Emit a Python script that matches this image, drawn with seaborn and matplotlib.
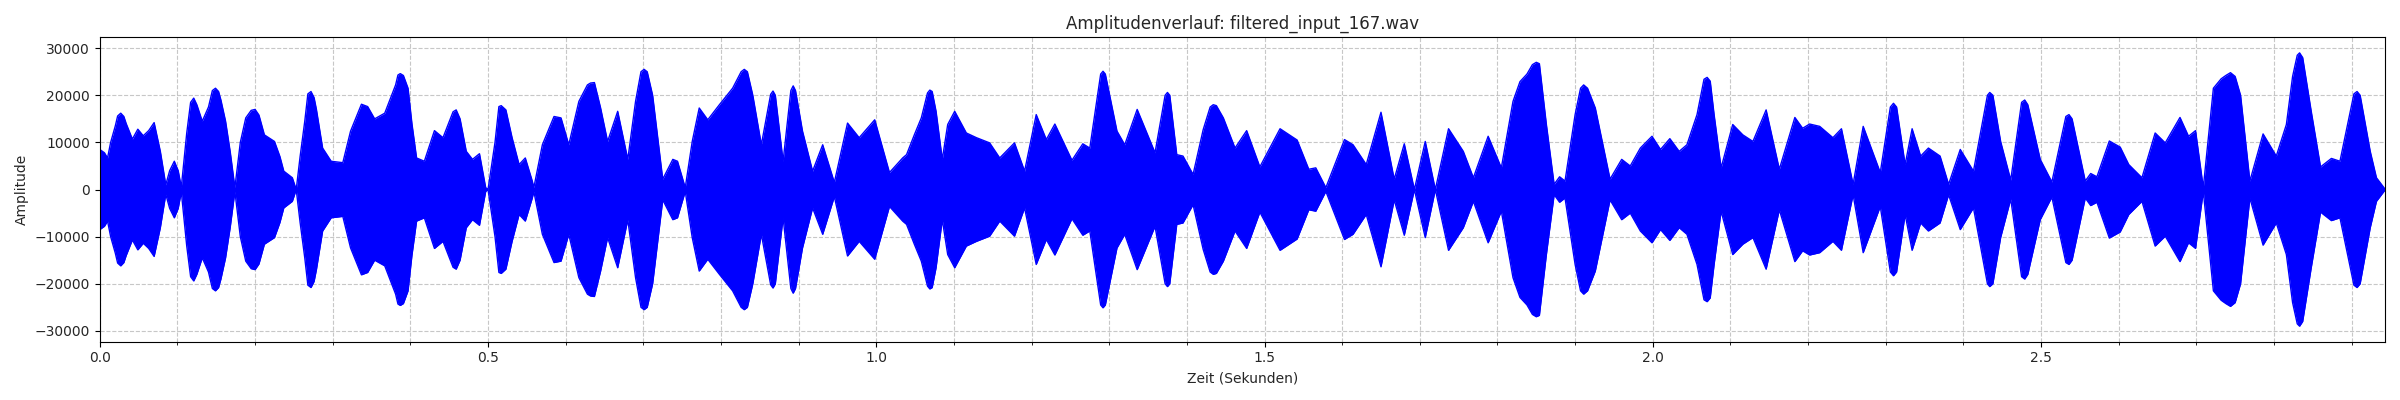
import numpy as np
import pandas as pd
import matplotlib
matplotlib.use("Agg")
import matplotlib.pyplot as plt
import seaborn as sns
from matplotlib.ticker import MultipleLocator

# Envelope of the waveform (time in s, amplitude)
times = [
    0.000, 0.006, 0.010, 0.014, 0.020, 0.023, 0.027, 0.031, 0.034, 0.042,
    0.049, 0.056, 0.063, 0.070, 0.078, 0.085, 0.090, 0.096, 0.101, 0.105,
    0.112, 0.117, 0.121, 0.125, 0.132, 0.140, 0.145, 0.149, 0.153, 0.156,
    0.162, 0.168, 0.174, 0.181, 0.188, 0.195, 0.200, 0.205, 0.212, 0.225,
    0.232, 0.237, 0.248, 0.253, 0.258, 0.264, 0.268, 0.272, 0.276, 0.279,
    0.287, 0.298, 0.313, 0.323, 0.337, 0.345, 0.354, 0.367, 0.381, 0.384,
    0.387, 0.391, 0.397, 0.402, 0.408, 0.418, 0.431, 0.442, 0.455, 0.459,
    0.464, 0.472, 0.480, 0.489, 0.497, 0.500, 0.509, 0.514, 0.517, 0.523,
    0.531, 0.540, 0.548, 0.557, 0.559, 0.570, 0.585, 0.594, 0.604, 0.617,
    0.628, 0.632, 0.637, 0.645, 0.654, 0.667, 0.680, 0.690, 0.697, 0.701,
    0.705, 0.712, 0.725, 0.738, 0.744, 0.754, 0.763, 0.772, 0.783, 0.798,
    0.815, 0.826, 0.830, 0.834, 0.841, 0.852, 0.864, 0.867, 0.870, 0.880,
    0.890, 0.893, 0.896, 0.905, 0.918, 0.931, 0.946, 0.963, 0.978, 0.998,
    1.017, 1.034, 1.039, 1.049, 1.058, 1.066, 1.069, 1.072, 1.077, 1.085,
    1.092, 1.101, 1.116, 1.129, 1.146, 1.159, 1.178, 1.191, 1.206, 1.219,
    1.230, 1.252, 1.266, 1.275, 1.289, 1.292, 1.295, 1.310, 1.320, 1.336,
    1.359, 1.372, 1.375, 1.378, 1.387, 1.395, 1.408, 1.421, 1.430, 1.434,
    1.438, 1.447, 1.462, 1.477, 1.494, 1.520, 1.542, 1.557, 1.566, 1.579,
    1.603, 1.614, 1.631, 1.650, 1.667, 1.680, 1.693, 1.707, 1.720, 1.737,
    1.756, 1.769, 1.788, 1.805, 1.820, 1.829, 1.838, 1.845, 1.850, 1.854,
    1.863, 1.873, 1.880, 1.887, 1.900, 1.907, 1.911, 1.916, 1.926, 1.945,
    1.960, 1.971, 1.984, 1.999, 2.010, 2.022, 2.034, 2.044, 2.057, 2.066,
    2.070, 2.074, 2.079, 2.088, 2.103, 2.116, 2.129, 2.146, 2.163, 2.183,
    2.193, 2.202, 2.215, 2.232, 2.243, 2.258, 2.271, 2.293, 2.306, 2.310,
    2.314, 2.325, 2.334, 2.345, 2.355, 2.370, 2.381, 2.396, 2.413, 2.431,
    2.434, 2.438, 2.448, 2.461, 2.475, 2.479, 2.483, 2.499, 2.514, 2.532,
    2.536, 2.540, 2.557, 2.564, 2.572, 2.588, 2.602, 2.613, 2.630, 2.647,
    2.660, 2.679, 2.690, 2.699, 2.709, 2.722, 2.732, 2.738, 2.744, 2.750,
    2.757, 2.769, 2.786, 2.803, 2.816, 2.824, 2.830, 2.833, 2.837, 2.848,
    2.860, 2.874, 2.885, 2.903, 2.907, 2.911, 2.924, 2.932, 2.943,
]
envelope = [
    8500, 7800, 6700, 10000, 13500, 15600, 16200, 15500, 14000, 10700,
    12800, 11400, 12500, 14200, 8100, 1000, 4000, 6000, 4000, 500,
    12000, 18500, 19400, 18000, 14500, 17500, 21000, 21500, 20800, 19000,
    14500, 8000, 400, 10000, 15200, 16800, 17000, 15800, 11600, 10200,
    7000, 3900, 2500, 0, 7000, 14500, 20300, 20800, 19500, 17000,
    8800, 6000, 5700, 12400, 18100, 17600, 15000, 16200, 22200, 24300,
    24600, 24200, 21500, 14000, 6700, 6000, 12500, 11000, 16500, 16900,
    15000, 8100, 6400, 7600, 400, 0, 10000, 17600, 17800, 16900,
    11000, 5300, 6700, 1800, 400, 9500, 15500, 15200, 9500, 18700,
    22200, 22600, 22700, 17300, 10200, 16600, 6400, 18700, 25000, 25500,
    25000, 20000, 2200, 6400, 6000, 400, 10200, 17300, 14800, 18000,
    21500, 25000, 25500, 25000, 20000, 9500, 20200, 20900, 20000, 6000,
    21000, 22000, 21000, 12400, 3900, 9500, 1500, 14100, 11000, 14800,
    3600, 6700, 7400, 11600, 15200, 20500, 21100, 20800, 16600, 6400,
    13800, 16600, 12000, 11000, 9900, 6700, 9900, 3900, 15900, 10600,
    13900, 6200, 9700, 8800, 24500, 25100, 24500, 12400, 9500, 17000,
    7800, 20000, 20600, 20000, 7400, 7100, 3200, 12700, 17500, 18000,
    17800, 15200, 8800, 12500, 4800, 12900, 10500, 4300, 4600, 400,
    10600, 9500, 5300, 16400, 2200, 9700, 0, 10200, 0, 12900,
    8100, 2500, 11300, 4600, 18700, 22900, 24500, 26500, 27000, 26700,
    13800, 1100, 2700, 1800, 15900, 21500, 22200, 21500, 17300, 2200,
    6400, 5000, 8800, 11300, 8500, 10800, 8100, 9500, 15900, 23400,
    23800, 23000, 15900, 4600, 13800, 11600, 10200, 16900, 4300, 15300,
    13000, 13900, 13400, 11000, 12900, 1100, 13400, 3600, 17500, 18300,
    17500, 5300, 12900, 7100, 8800, 7100, 1100, 8500, 3900, 20000,
    20600, 20000, 10200, 2000, 18500, 19000, 18000, 6400, 1600, 15500,
    15900, 15000, 1800, 3400, 2700, 10300, 9000, 5300, 2500, 12000,
    9900, 15300, 11300, 12500, 400, 21500, 23500, 24200, 24800, 24000,
    20000, 1800, 11800, 7100, 13800, 24000, 28500, 29000, 28000, 16600,
    4800, 6600, 6000, 20300, 20800, 20000, 8100, 2500, 100,
]

title = "Amplitudenverlauf: filtered_input_167.wav"
x_label = "Zeit (Sekunden)"
y_label = "Amplitude"

n = min(len(times), len(envelope))
df = pd.DataFrame({
    "Zeit": times[:n],
    "oben": envelope[:n],
    "unten": [-v for v in envelope[:n]],
})

sns.set_style("ticks")
plt.rcParams["font.family"] = ["DejaVu Sans"]

fig, ax = plt.subplots(figsize=(24, 4), dpi=100)
ax.fill_between(df["Zeit"], df["unten"], df["oben"], color="blue", linewidth=0)
sns.lineplot(data=df, x="Zeit", y="oben", color="blue", linewidth=1.0, ax=ax)
sns.lineplot(data=df, x="Zeit", y="unten", color="blue", linewidth=1.0, ax=ax)

ax.set_xlim(0, times[n - 1])
ax.set_ylim(-32300, 32300)
ax.xaxis.set_major_locator(MultipleLocator(0.5))
ax.xaxis.set_minor_locator(MultipleLocator(0.1))
ax.yaxis.set_major_locator(MultipleLocator(10000))
ax.grid(True, which="both", linestyle="--", color="#b0b0b0", linewidth=0.8, alpha=0.7)
for s in ax.spines.values():
    s.set_visible(True)
    s.set_color("black")
ax.tick_params(which="both", direction="out", color="black")
ax.set_title(title, fontsize=12)
ax.set_xlabel(x_label, fontsize=10)
ax.set_ylabel(y_label, fontsize=10)

fig.tight_layout()
fig.savefig("out.png", dpi=100)
